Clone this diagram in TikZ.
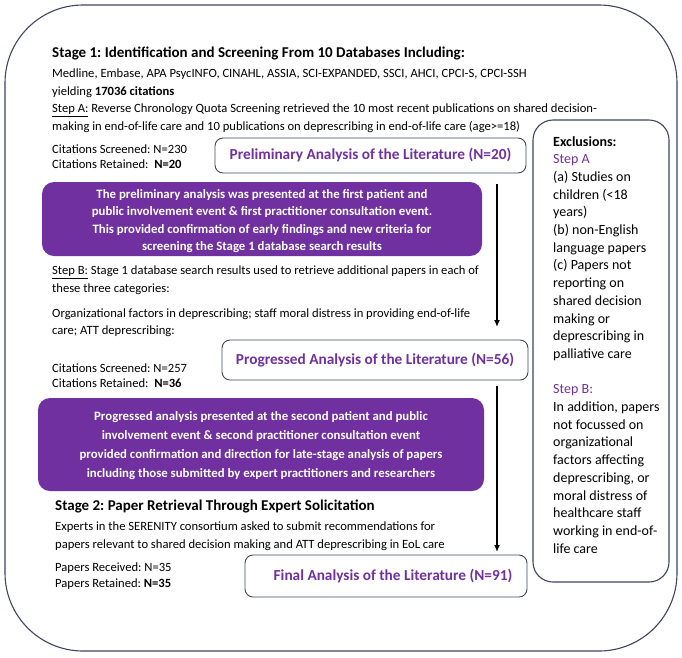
\documentclass[tikz,border=0pt]{standalone}
\usepackage{fontspec}
\setmainfont{Carlito}
\usetikzlibrary{arrows.meta}
\definecolor{purp}{HTML}{7030A0}
\definecolor{edgec}{HTML}{3E4560}
\frenchspacing
\begin{document}
\begin{tikzpicture}[x=1pt,y=-1pt,
  body/.style={font=\fontsize{12.6}{17.7}\selectfont, align=left, inner sep=0pt, anchor=north west},
  tight/.style={font=\fontsize{12.6}{15.5}\selectfont, align=left, inner sep=0pt, anchor=north west},
  stagetitle/.style={font=\fontsize{15}{18}\selectfont\bfseries, inner sep=0pt, anchor=west},
  resbox/.style={draw=edgec, line width=0.9pt, rounded corners=8pt, inner sep=0pt, text=purp, font=\fontsize{15.3}{18}\selectfont\bfseries},
  purpbox/.style={fill=purp, rounded corners=12pt, inner sep=0pt, text=white, align=center, font=\fontsize{12.8}{17.5}\selectfont\bfseries},
  flow/.style={line width=1.4pt, -{Latex[length=7pt,width=6pt]}}
]
\useasboundingbox (0,0) rectangle (682,657);
% outer frame
\node[draw=edgec, line width=1.1pt, rounded corners=78pt, minimum width=672pt, minimum height=646pt, inner sep=0pt] (outer) at (341,328) {};
% exclusions
\node[draw=edgec, line width=1.1pt, rounded corners=20pt, minimum width=136pt, minimum height=462pt, inner sep=0pt] (excl) at (601,351) {};
\node[font=\fontsize{14}{17.7}\selectfont, align=left, inner sep=0pt, anchor=north west] (excltext) at (553,136) {%
\textbf{Exclusions:}\\
\textcolor{purp}{Step A}\\
(a) Studies on\\
children (<18\\
years)\\
(b) non-English\\
language papers\\
(c) Papers not\\
reporting on\\
shared decision\\
making or\\
deprescribing in\\
palliative care\\[17.7pt]
\textcolor{purp}{Step B:}\\
In addition, papers\\
not focussed on\\
organizational\\
factors affecting\\
deprescribing, or\\
moral distress of\\
healthcare staff\\
working in end-of-\\
life care};
% stage 1
\node[stagetitle] (s1) at (52,53.5) {Stage 1: Identification and Screening From 10 Databases Including:};
\node[body] (s1text) at (52,68.5) {%
Medline, Embase, APA PsycINFO, CINAHL, ASSIA, SCI-EXPANDED, SSCI, AHCI, CPCI-S, CPCI-SSH\\
yielding \textbf{17036 citations}\\
\underline{Step A:} Reverse Chronology Quota Screening retrieved the 10 most recent publications on shared decision-\\
making in end-of-life care and 10 publications on deprescribing in end-of-life care (age>=18)};
\node[tight] (cit1) at (52,144.5) {Citations Screened: N=230\\Citations Retained:\ \ \textbf{N=20}};
\node[resbox, minimum width=311pt, minimum height=35pt] (pre) at (370.5,155.5) {Preliminary Analysis of the Literature (N=20)};
\node[purpbox, minimum width=440pt, minimum height=74pt] (pp1) at (262,219) {%
\rule{0pt}{13.6pt}The preliminary analysis was presented at the first patient and\\
public involvement event \& first practitioner consultation event.\\
This provided confirmation of early findings and new criteria for\\
screening the Stage 1 database search results};
% step B
\node[body] (stepb) at (52,265.5) {%
\underline{Step B:} Stage 1 database search results used to retrieve additional papers in each of\\
these three categories:\\[7.3pt]
Organizational factors in deprescribing; staff moral distress in providing end-of-life\\
care; ATT deprescribing:};
\node[tight] (cit2) at (52,363.5) {Citations Screened: N=257\\Citations Retained:\ \ \textbf{N=36}};
\node[resbox, minimum width=306pt, minimum height=40pt] (prog) at (375,360) {Progressed Analysis of the Literature (N=56)};
\node[purpbox, minimum width=446pt, minimum height=93pt, font=\fontsize{12.8}{19}\selectfont\bfseries] (pp2) at (261,444.5) {%
\rule{0pt}{12pt}Progressed analysis presented at the second patient and public\\
involvement event \& second practitioner consultation event\\
provided confirmation and direction for late-stage analysis of papers\\
including those submitted by expert practitioners and researchers};
% stage 2
\node[stagetitle] (s2) at (55,506.5) {Stage 2: Paper Retrieval Through Expert Solicitation};
\node[body] (s2text) at (55,521.5) {%
Experts in the SERENITY consortium asked to submit recommendations for\\
papers relevant to shared decision making and ATT deprescribing in EoL care};
\node[tight, font=\fontsize{12.6}{16.5}\selectfont] (pap) at (55,562.5) {Papers Received: N=35\\Papers Retained: \textbf{N=35}};
\node[resbox, minimum width=282pt, minimum height=42pt] (fin) at (386,576) {\hspace*{14pt}Final Analysis of the Literature (N=91)};
% arrows
\coordinate (a1s) at (497,184);
\coordinate (a1e) at (497,327);
\coordinate (a2s) at (497,386);
\coordinate (a2e) at (497,552);
\draw[flow] (a1s) -- (a1e);
\draw[flow] (a2s) -- (a2e);
\end{tikzpicture}
\end{document}
